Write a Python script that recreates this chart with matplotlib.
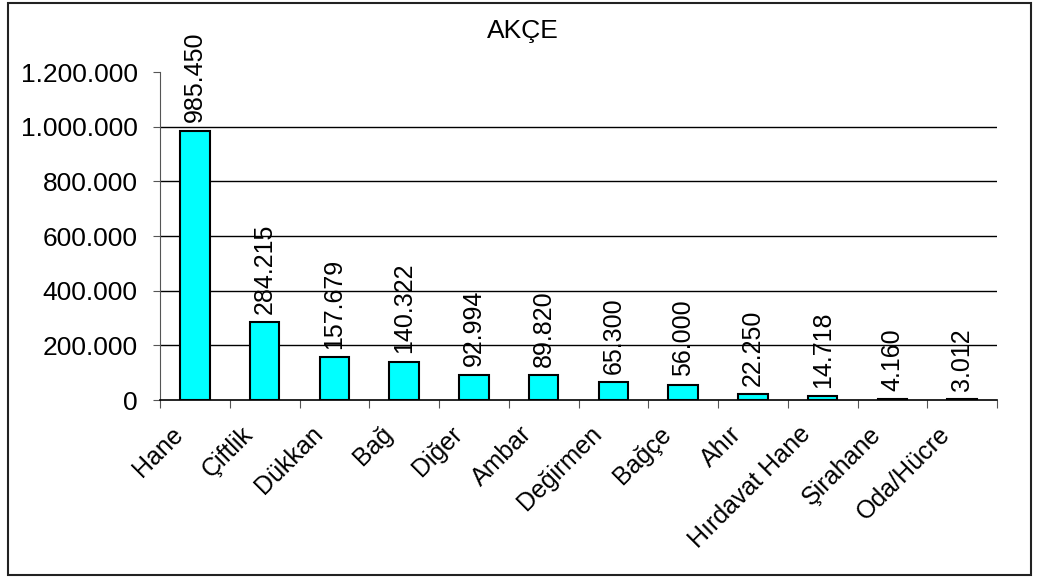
import matplotlib
matplotlib.use("Agg")
import matplotlib.pyplot as plt
from matplotlib.patches import Rectangle
from matplotlib.transforms import offset_copy

categories = ["Hane", "Çiftlik", "Dükkan", "Bağ", "Diğer", "Ambar", "Değirmen",
              "Bağçe", "Ahır", "Hırdavat Hane", "Şirahane", "Oda/Hücre"]
values = [985450, 284215, 157679, 140322, 92994, 89820, 65300, 56000,
          22250, 14718, 4160, 3012]
yticks = [0, 200000, 400000, 600000, 800000, 1000000, 1200000]

def fmt(v):
    return f"{v:,}".replace(",", ".")

plt.rcParams['font.family'] = ['Liberation Sans', 'DejaVu Sans']

W, H = 1038, 577
fig = plt.figure(figsize=(W / 100, H / 100), dpi=100)
fig.patches.append(Rectangle((8 / W, 2 / H), (1031 - 8) / W, (575 - 3) / H,
                             transform=fig.transFigure, fill=False,
                             edgecolor='#222222', linewidth=1.5))

ax = fig.add_axes([160 / W, 1 - 400 / H, (997 - 160) / W, (400 - 72) / H])
x = list(range(len(categories)))
ax.bar(x, values, width=0.42, color='#00FFFF', edgecolor='black', linewidth=1.5, zorder=3)
ax.set_xlim(-0.5, len(categories) - 0.5)
ax.set_ylim(0, 1200000)

for g in yticks[1:-1]:
    ax.axhline(g, color='black', linewidth=1.0, zorder=1)

ax.set_yticks(yticks)
ax.set_yticklabels([fmt(v) for v in yticks], fontsize=19)
ax.tick_params(axis='y', direction='out', length=5, color='#555555', pad=11)

ax.set_xticks([i - 0.5 for i in range(len(categories) + 1)])
ax.set_xticklabels([])
ax.tick_params(axis='x', direction='out', length=6, color='#555555')

lab_tr = offset_copy(ax.get_xaxis_transform(), fig=fig, x=-24, y=-22, units='dots')
for i, c in enumerate(categories):
    ax.text(i, 0, c, transform=lab_tr, rotation=45, ha='right', va='top',
            rotation_mode='anchor', fontsize=18, clip_on=False)

for s in ['top', 'right']:
    ax.spines[s].set_visible(False)
ax.spines['left'].set_color('#555555')
ax.spines['bottom'].set_color('black')
ax.spines['bottom'].set_linewidth(1.2)

for i, v in enumerate(values):
    ax.annotate(fmt(v), (i, v), xytext=(0, 6), textcoords='offset points',
                rotation=90, ha='center', va='bottom', fontsize=18, zorder=4)

fig.text(523 / W, 1 - 31 / H, "AKÇE", ha='center', va='center', fontsize=19)

fig.savefig("out.png", dpi=100)
